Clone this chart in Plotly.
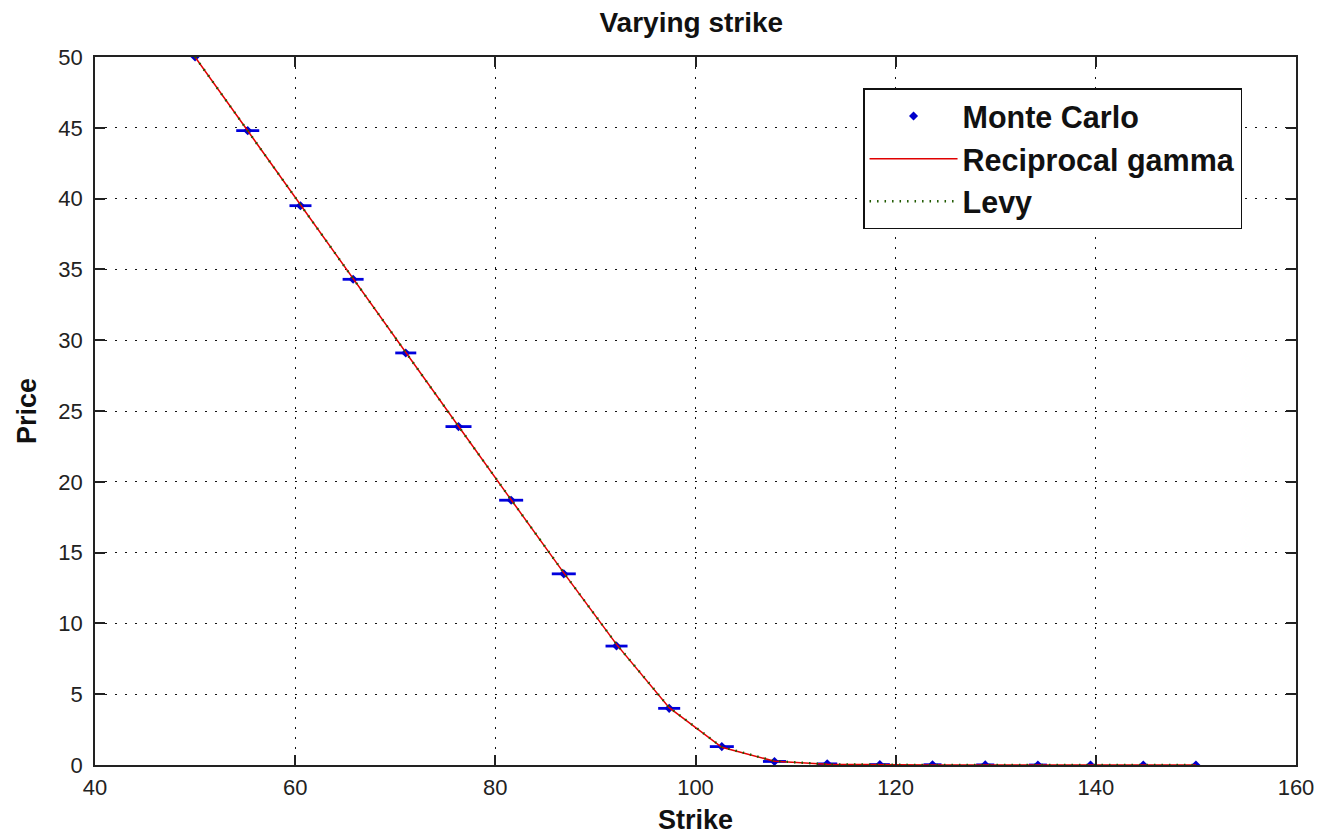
import plotly.graph_objects as go

# ---- data ----
strikes = [50.00, 55.26, 60.53, 65.79, 71.05, 76.32, 81.58, 86.84, 92.11, 97.37,
           102.63, 107.89, 113.16, 118.42, 123.68, 128.95, 134.21, 139.47, 144.74, 150.00]
mc_price = [50.0, 44.8, 39.5, 34.3, 29.1, 23.9, 18.7, 13.5, 8.4, 4.0,
            1.3, 0.25, 0.08, 0.03, 0.02, 0.01, 0.0, 0.0, 0.0, 0.0]
mc_err = [0.0, 1.15, 1.1, 1.05, 1.05, 1.3, 1.2, 1.2, 1.1, 1.1,
          1.2, 1.15, 1.0, 1.0, 0.9, 0.9, 0.9, 0.0, 0.0, 0.0]
recip_gamma = [50.0, 44.77, 39.55, 34.33, 29.12, 23.92, 18.73, 13.57, 8.52, 4.05,
               1.25, 0.27, 0.05, 0.01, 0.0, 0.0, 0.0, 0.0, 0.0, 0.0]
levy = [50.0, 44.77, 39.55, 34.33, 29.12, 23.92, 18.74, 13.58, 8.53, 4.07,
        1.27, 0.28, 0.05, 0.01, 0.0, 0.0, 0.0, 0.0, 0.0, 0.0]

x_ticks = [40, 60, 80, 100, 120, 140, 160]
y_ticks = [0, 5, 10, 15, 20, 25, 30, 35, 40, 45, 50]

FONT = "Liberation Sans, Arial, sans-serif"

fig = go.Figure()
fig.add_trace(go.Scatter(
    x=strikes, y=mc_price, mode="markers", name="Monte Carlo",
    marker=dict(symbol="diamond", size=7, color="#0000cc"),
    error_x=dict(type="data", array=mc_err, visible=True, color="#0000dd",
                 thickness=2.8, width=0),
))
fig.add_trace(go.Scatter(
    x=strikes, y=recip_gamma, mode="lines", name="Reciprocal gamma",
    line=dict(color="#e00000", width=1.5),
))
fig.add_trace(go.Scatter(
    x=strikes, y=levy, mode="lines", name="Levy",
    line=dict(color="#1f5a00", width=2.4, dash="1.5px,6px"),
))

axis_common = dict(
    showline=True, linecolor="#222222", linewidth=1.6, mirror="ticks",
    ticks="inside", ticklen=10, tickwidth=1.5, tickcolor="#222222",
    showgrid=True, gridcolor="#111111", gridwidth=1.4, griddash="2px,8px",
    zeroline=False, automargin=False,
    tickfont=dict(family=FONT, size=22, color="#222222"),
)

fig.update_xaxes(range=[40, 160], tickvals=x_ticks, ticktext=[str(v) for v in x_ticks],
                 title=dict(text="<b>Strike</b>", standoff=11,
                            font=dict(family=FONT, size=27, color="#111111")),
                 ticklabelstandoff=2, **axis_common)
fig.update_yaxes(range=[0, 50], tickvals=y_ticks, ticktext=[str(v) for v in y_ticks],
                 title=dict(text="<b>Price</b>", standoff=14,
                            font=dict(family=FONT, size=27, color="#111111")),
                 ticklabelstandoff=6, **axis_common)

fig.update_layout(
    width=1332, height=835,
    margin=dict(l=95, r=36, t=57, b=70, autoexpand=False),
    paper_bgcolor="white", plot_bgcolor="white",
    title=dict(text="<b>Varying strike</b>", x=0.519, xanchor="center",
               y=1 - 22 / 835, yanchor="middle", yref="container",
               font=dict(family=FONT, size=28, color="#111111")),
    showlegend=True,
    legend=dict(x=0.6395, y=0.956, xanchor="left", yanchor="top",
                bgcolor="white", bordercolor="#111111", borderwidth=1.5,
                itemwidth=88,
                font=dict(family=FONT, size=30.5, color="#111111")),
)
for tr in fig.data:
    tr.name = "<b>" + tr.name + "</b>"

fig.write_html("out.html",
               config={"displayModeBar": False},
               post_script="document.body.style.margin='0';document.body.style.overflow='hidden';")
